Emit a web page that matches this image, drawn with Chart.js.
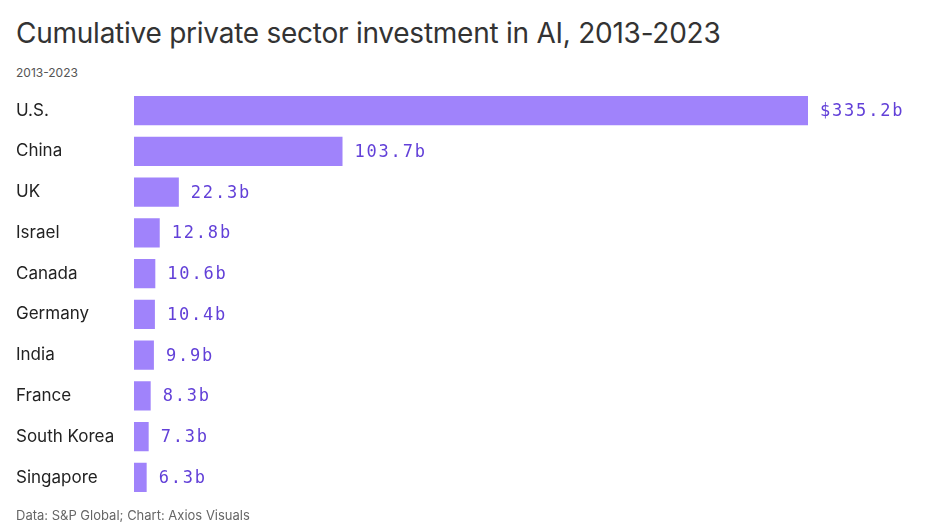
<!DOCTYPE html>
<html>
<head>
<meta charset="utf-8">
<script src="https://cdn.jsdelivr.net/npm/chart.js@4"></script>
<style>
  html, body { margin: 0; padding: 0; background: #fff; width: 943px; height: 523px; overflow: hidden; }
  body { position: relative; font-family: Inter, "Noto Sans", sans-serif; }
  #title { position: absolute; left: 16px; top: 16px; font-size: 28px; font-weight: 400; color: #333; white-space: nowrap; letter-spacing: -0.25px; }
  #sub { position: absolute; left: 16px; top: 65px; font-size: 12px; color: #555; }
  #foot { position: absolute; left: 16px; top: 507px; font-size: 13px; color: #666; }
  #wrap { position: absolute; left: 16px; top: 80px; width: 887px; height: 428px; }
</style>
</head>
<body>
<div id="title">Cumulative private sector investment in AI, 2013-2023</div>
<div id="sub">2013-2023</div>
<div id="wrap"><canvas id="c"></canvas></div>
<div id="foot">Data: S&amp;P Global; Chart: Axios Visuals</div>
<script>
const countries = ["U.S.", "China", "UK", "Israel", "Canada", "Germany", "India", "France", "South Korea", "Singapore"];
const investment = [335.2, 103.7, 22.3, 12.8, 10.6, 10.4, 9.9, 8.3, 7.3, 6.3];
const valueLabels = ["$335.2b", "103.7b", "22.3b", "12.8b", "10.6b", "10.4b", "9.9b", "8.3b", "7.3b", "6.3b"];

const valueLabelPlugin = {
  id: 'valueLabels',
  afterDatasetsDraw(chart) {
    const ctx = chart.ctx;
    const meta = chart.getDatasetMeta(0);
    ctx.save();
    ctx.font = '17px "DejaVu Sans Mono", "Liberation Mono", monospace';
    ctx.fillStyle = '#6240d8';
    ctx.textBaseline = 'middle';
    ctx.textAlign = 'left';
    try { ctx.letterSpacing = '1.8px'; } catch (e) {}
    meta.data.forEach((bar, i) => {
      ctx.fillText(valueLabels[i], bar.x + 12, bar.y + 1);
    });
    ctx.restore();
  }
};

new Chart(document.getElementById('c'), {
  type: 'bar',
  data: {
    labels: countries,
    datasets: [{
      data: investment,
      backgroundColor: '#a083fb',
      borderWidth: 0,
      barPercentage: 0.72,
      categoryPercentage: 1
    }]
  },
  options: {
    indexAxis: 'y',
    responsive: true,
    maintainAspectRatio: false,
    animation: false,
    layout: { padding: { left: 0, right: 95, top: 0, bottom: 0 } },
    plugins: { legend: { display: false }, tooltip: { enabled: false } },
    scales: {
      x: { display: false, min: 0, max: 335.2 },
      y: {
        grid: { display: false },
        border: { display: false },
        ticks: {
          crossAlign: 'far',
          padding: 0,
          color: '#222',
          font: { family: 'Inter, "Noto Sans", sans-serif', size: 17 }
        },
        afterFit(scale) { scale.width = 118; }
      }
    }
  },
  plugins: [valueLabelPlugin]
});
</script>
</body>
</html>
